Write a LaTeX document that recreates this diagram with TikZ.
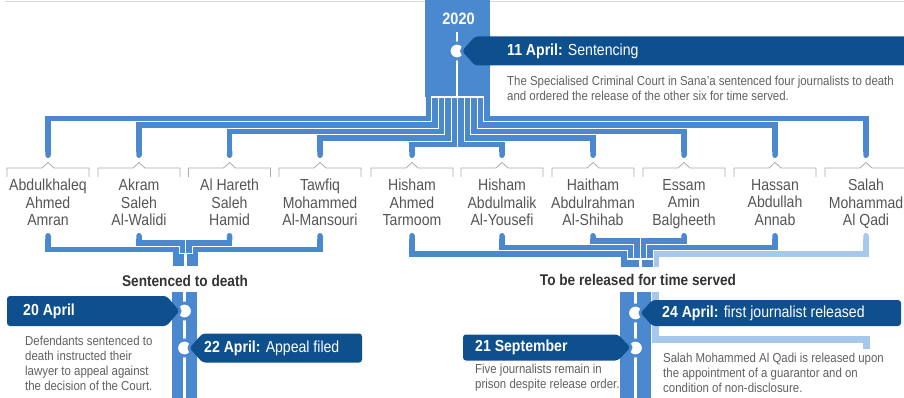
\documentclass[tikz,border=0pt]{standalone}
\usepackage{fontspec}
\setmainfont{Liberation Sans}[FakeStretch=0.88]
\usetikzlibrary{arrows.meta}
\definecolor{mblue}{HTML}{4A89CF}
\definecolor{dblue}{HTML}{0E4F8E}
\definecolor{lblue}{HTML}{A5C8EC}
\definecolor{descg}{HTML}{606060}
\definecolor{namec}{HTML}{555555}
\definecolor{headc}{HTML}{333333}
\definecolor{brk}{HTML}{AAAAAA}
\begin{document}
\begin{tikzpicture}[x=1pt,y=-1pt,
  lane/.style={draw=mblue,line width=5.5pt},
  lanel/.style={draw=lblue,line width=5.5pt},
  pname/.style={font=\fontsize{16}{17.5}\selectfont,text=namec,align=center,inner sep=0pt,anchor=north},
  desc/.style={font=\fontsize{13}{15}\selectfont,text=descg,align=left,inner sep=0pt,anchor=north west},
  head/.style={font=\bfseries\fontsize{15.5}{17}\selectfont,text=headc,inner sep=0pt},
  btext/.style={font=\fontsize{16}{18}\selectfont,text=white,inner sep=0pt,anchor=west},
  dot/.style={circle,fill=white,draw=mblue,line width=3pt,inner sep=0pt,minimum size=16pt},
  bfill/.style={fill=dblue,rounded corners=3pt},
  bborder/.style={draw=mblue,line width=6pt,rounded corners=3pt},
  brack/.style={draw=brk,line width=0.8pt}]
\useasboundingbox (0,0) rectangle (904,398);
% faint top rule
\draw[gray!30,line width=1pt] (5,1.5) -- (904,1.5);
% top band
\fill[mblue] (425,0) rectangle (490,97);
\node[font=\bfseries\fontsize{16.5}{18}\selectfont,text=white,inner sep=0pt] (yr) at (458.5,19) {2020};

% names
\node[pname] (p1) at (48,179) {Abdulkhaleq\\Ahmed\\Amran};
\node[pname] (p2) at (139,179) {Akram\\Saleh\\Al-Walidi};
\node[pname] (p3) at (229.5,179) {Al Hareth\\Saleh\\Hamid};
\node[pname] (p4) at (320,179) {Tawfiq\\Mohammed\\Al-Mansouri};
\node[pname] (p5) at (412,179) {Hisham\\Ahmed\\Tarmoom};
\node[pname] (p6) at (502,179) {Hisham\\Abdulmalik\\Al-Yousefi};
\node[pname] (p7) at (593,179) {Haitham\\Abdulrahman\\Al-Shihab};
\node[pname] (p8) at (684,179) {Essam\\Amin\\Balgheeth};
\node[pname] (p9) at (775,179) {Hassan\\Abdullah\\Annab};
\node[pname] (p10) at (866,179) {Salah\\Mohammad\\Al Qadi};

% brackets
\foreach \cx in {48,139,229.5,320,412,502,593,684,775,866}{
  \draw[brack] (\cx-41,177) -- (\cx-41,168) -- (\cx-6,168) -- (\cx,162.5) -- (\cx+6,168) -- (\cx+41,168) -- (\cx+41,177);
}

\coordinate (topdrop) at (0,158);
\coordinate (botrise) at (0,233);

% top lanes
\foreach \i/\n in {0/p1,1/p2,2/p3,3/p4,4/p5}{
  \pgfmathsetmacro\bx{428.25+6.5*\i}
  \pgfmathsetmacro\hy{118.5+6.5*\i}
  \draw[lane,-{Round Cap[]}] (\bx,97) |- (\n.north |- 0,\hy) -- (\n.north |- topdrop);
}
\foreach \i/\n in {5/p6,6/p7,7/p8,8/p9,9/p10}{
  \pgfmathsetmacro\bx{428.25+6.5*\i}
  \pgfmathsetmacro\hy{118.5+6.5*(9-\i)}
  \draw[lane,-{Round Cap[]}] (\bx,97) |- (\n.north |- 0,\hy) -- (\n.north |- topdrop);
}
\draw[white,line width=1.2pt] (431,97) -- (484,97);
\draw[white,line width=2.5pt] (457,32) -- (457,97.5);
\node[dot] (d1) at (457,51) {};
\begin{scope}
  \clip (425,0) rectangle (490,97);
  \draw[bborder] (912,36.5) -- (475,36.5) -- (462,51) -- (475,65.5) -- (912,65.5) -- cycle;
\end{scope}
\fill[bfill] (912,36.5) -- (475,36.5) -- (462,51) -- (475,65.5) -- (912,65.5) -- cycle;
\node[btext] (t1) at (507,51) {\textbf{11 April:} Sentencing};
\node[desc] (t1d) at (507,75.5) {The Specialised Criminal Court in Sana'a sentenced four journalists to death\\and ordered the release of the other six for time served.};

% bottom: sentenced to death
\draw[lane,{Round Cap[]}-] (p2.north |- botrise) |- (182.5,243) -- (182.5,252.5);
\draw[lane,{Round Cap[]}-] (p3.north |- botrise) |- (189,243) -- (189,252.5);
\draw[lane,{Round Cap[]}-] (p1.north |- botrise) |- (176,249.5) -- (176,266);
\draw[lane,{Round Cap[]}-] (p4.north |- botrise) |- (195.5,249.5) -- (195.5,266);
\fill[mblue] (173.25,254) rectangle (184,266);
\fill[mblue] (187,254) rectangle (198.25,266);
\node[head] (sd) at (185,280.5) {Sentenced to death};

% bottom: released
\draw[lane,{Round Cap[]}-] (p7.north |- botrise) |- (637,241) -- (637,258);
\draw[lane,{Round Cap[]}-] (p8.north |- botrise) |- (643.5,241) -- (643.5,258);
\draw[lane,{Round Cap[]}-] (p6.north |- botrise) |- (630.5,247.5) -- (630.5,258);
\draw[lane,{Round Cap[]}-] (p9.north |- botrise) |- (650,247.5) -- (650,258);
\draw[lane,{Round Cap[]}-] (p5.north |- botrise) |- (624,254) -- (624,267);
\draw[lanel,{Round Cap[]}-] (p10.north |- botrise) |- (656.5,254) -- (656.5,267);
\fill[mblue] (621.25,259.5) rectangle (638.5,267);
\fill[mblue] (641.5,259.5) rectangle (652.75,267);
\node[head] (rt) at (638,279.5) {To be released for time served};

% death strip
\fill[mblue] (172,292) rectangle (197,398);
\draw[white,line width=3.5pt] (184.5,292) -- (184.5,398);
\node[dot] (d2) at (184.5,311) {};
\node[dot] (d3) at (184.5,348) {};
\begin{scope}
  \clip (172,292) rectangle (197,398);
  \draw[bborder] (5,296) -- (166.5,296) -- (179.5,311) -- (166.5,326) -- (5,326) -- cycle;
  \draw[bborder] (362,333.5) -- (202.5,333.5) -- (189.5,348) -- (202.5,362.5) -- (362,362.5) -- cycle;
\end{scope}
\fill[bfill] (7,296) -- (166.5,296) -- (179.5,311) -- (166.5,326) -- (7,326) -- cycle;
\fill[bfill] (362,333.5) -- (202.5,333.5) -- (189.5,348) -- (202.5,362.5) -- (362,362.5) -- cycle;
\node[btext] (t2) at (23,311) {\textbf{20 April}};
\node[btext] (t3) at (204,348) {\textbf{22 April:} Appeal filed};
\node[desc] (t2d) at (25,336) {Defendants sentenced to\\death instructed their\\lawyer to appeal against\\the decision of the Court.};

% released strip
\draw[lanel,line width=7pt] (655,292) -- (655,339) -- (866,339) -- (866,349);
\fill[mblue] (620,292) rectangle (651,398);
\draw[white,line width=3.5pt] (635.5,292) -- (635.5,398);
\node[dot] (d4) at (635.5,313) {};
\node[dot] (d5) at (635.5,348) {};
\begin{scope}
  \clip (620,292) rectangle (651,398);
  \draw[bborder] (903,300) -- (652.5,300) -- (640.5,313) -- (652.5,326) -- (903,326) -- cycle;
  \draw[bborder] (463,334.5) -- (618,334.5) -- (630.5,347.5) -- (618,360.5) -- (463,360.5) -- cycle;
\end{scope}
\fill[bfill] (901,300) -- (652.5,300) -- (640.5,313) -- (652.5,326) -- (901,326) -- cycle;
\fill[bfill] (463,334.5) -- (618,334.5) -- (630.5,347.5) -- (618,360.5) -- (463,360.5) -- cycle;
\node[btext] (t4) at (662,313) {\textbf{24 April:} first journalist released};
\node[btext] (t5) at (475,347.5) {\textbf{21 September}};
\node[desc] (t5d) at (475,364) {Five journalists remain in\\prison despite release order.};
\node[desc] (t4d) at (663,352.5) {Salah Mohammed Al Qadi is released upon\\the appointment of a guarantor and on\\condition of non-disclosure.};
\end{tikzpicture}
\end{document}
